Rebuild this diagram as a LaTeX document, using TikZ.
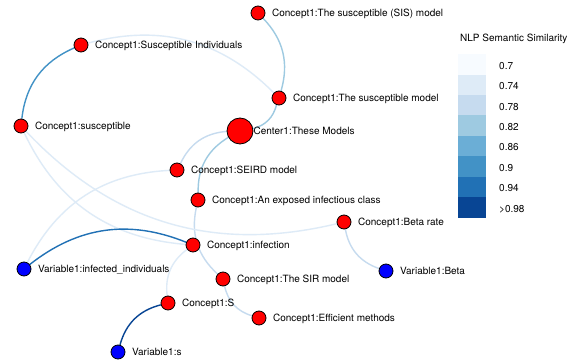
\documentclass[tikz,border=0pt]{standalone}
\usepackage{fontspec}
\setmainfont{TeX Gyre Heros}
\usetikzlibrary{backgrounds}
\definecolor{cA}{HTML}{F7FBFF}
\definecolor{cB}{HTML}{DEEBF7}
\definecolor{cC}{HTML}{C6DBEF}
\definecolor{cD}{HTML}{9ECAE1}
\definecolor{cE}{HTML}{6BAED6}
\definecolor{cF}{HTML}{4292C6}
\definecolor{cG}{HTML}{2171B5}
\definecolor{cH}{HTML}{084594}
\definecolor{nodered}{HTML}{FF0000}
\definecolor{nodeblue}{HTML}{0000FF}
\begin{document}
\begin{tikzpicture}[x=1pt,y=1pt,
  vnode/.style={circle,draw=black,line width=0.8pt,inner sep=0pt,minimum size=14pt},
  conceptnode/.style={vnode,fill=nodered},
  varnode/.style={vnode,fill=nodeblue},
  hubnode/.style={conceptnode,minimum size=26pt},
  lbl/.style={inner sep=0pt,anchor=base west,font=\fontsize{10}{12}\selectfont},
  edgeline/.style={line width=1.4pt},
  legbox/.style={inner sep=0pt,minimum width=28pt,minimum height=20.6pt,anchor=north west},
]
\useasboundingbox (0,0) rectangle (571,362);

% nodes
\node[conceptnode] (sis) at (258,349) {};
\node[conceptnode] (sind) at (81,317) {};
\node[conceptnode] (susc) at (21,236) {};
\node[conceptnode] (smodel) at (279,264) {};
\node[hubnode] (center) at (240,231) {};
\node[conceptnode] (seird) at (177,192) {};
\node[conceptnode] (exposed) at (198,162) {};
\node[conceptnode] (betarate) at (344,140) {};
\node[conceptnode] (infection) at (193,117) {};
\node[varnode] (infind) at (24,93) {};
\node[varnode] (betavar) at (386,91) {};
\node[conceptnode] (sir) at (223,83) {};
\node[conceptnode] (S) at (168,59) {};
\node[conceptnode] (efficient) at (259,44) {};
\node[varnode] (vars) at (118,10) {};

% labels
\node[lbl] (lsis) at ([xshift=6.5pt,yshift=-3.6pt]sis.east) {Concept1:The susceptible (SIS) model};
\node[lbl] (lsind) at ([xshift=6.5pt,yshift=-3.6pt]sind.east) {Concept1:Susceptible Individuals};
\node[lbl] (lsusc) at ([xshift=6.5pt,yshift=-3.6pt]susc.east) {Concept1:susceptible};
\node[lbl] (lsmodel) at ([xshift=6.5pt,yshift=-3.6pt]smodel.east) {Concept1:The susceptible model};
\node[lbl] (lcenter) at ([xshift=0pt,yshift=-3.6pt]center.east) {Center1:These Models};
\node[lbl] (lseird) at ([xshift=6.5pt,yshift=-3.6pt]seird.east) {Concept1:SEIRD model};
\node[lbl] (lexposed) at ([xshift=6.5pt,yshift=-3.6pt]exposed.east) {Concept1:An exposed infectious class};
\node[lbl] (lbetarate) at ([xshift=6.5pt,yshift=-3.6pt]betarate.east) {Concept1:Beta rate};
\node[lbl] (linfection) at ([xshift=6.5pt,yshift=-3.6pt]infection.east) {Concept1:infection};
\node[lbl] (linfind) at ([xshift=6.5pt,yshift=-3.6pt]infind.east) {Variable1:infected\_individuals};
\node[lbl] (lbetavar) at ([xshift=6.5pt,yshift=-3.6pt]betavar.east) {Variable1:Beta};
\node[lbl] (lsir) at ([xshift=6.5pt,yshift=-3.6pt]sir.east) {Concept1:The SIR model};
\node[lbl] (lS) at ([xshift=6.5pt,yshift=-3.6pt]S.east) {Concept1:S};
\node[lbl] (lefficient) at ([xshift=6.5pt,yshift=-3.6pt]efficient.east) {Concept1:Efficient methods};
\node[lbl] (lvars) at ([xshift=6.5pt,yshift=-3.6pt]vars.east) {Variable1:s};

% edges
\begin{scope}[on background layer]
\fill[white] (0,0) rectangle (571,362);
\draw[edgeline,cF] (susc) to[bend left=30] (sind);
\draw[edgeline,cB] (sind) to[bend left=30] (smodel);
\draw[edgeline,cD] (sis) to[bend left=30] (smodel);
\draw[edgeline,cD] (smodel) to[bend left=30] (center);
\draw[edgeline,cC] (center) to[bend right=30] (seird);
\draw[edgeline,cD] (center) to[bend right=30] (exposed);
\draw[edgeline,cC] (exposed) to[bend right=30] (sir);
\draw[edgeline,cC] (sir) to[bend right=30] (efficient);
\draw[edgeline,cB] (susc) to[bend right=30] (infection);
\draw[edgeline,cB] (susc) to[bend right=30] (betarate);
\draw[edgeline,cB] (infind) to[bend left=30] (seird);
\draw[edgeline,cG] (infind) to[bend left=30] (infection);
\draw[edgeline,cB] (infection) to[bend right=30] (S);
\draw[edgeline,cH] (S) to[bend right=30] (vars);
\draw[edgeline,cC] (betarate) to[bend right=30] (betavar);
\end{scope}

% legend
\node[lbl] (legtitle) at (460,320.4) {NLP Semantic Similarity};
\foreach \c/\t [count=\i from 0] in {cA/0.7,cB/0.74,cC/0.78,cD/0.82,cE/0.86,cF/0.9,cG/0.94,cH/\textgreater0.98}{
  \node[legbox,fill=\c] (legbox\i) at (458,{308-20.4*\i}) {};
  \node[lbl] (leglabel\i) at (499,{308-20.4*\i-10.2-1.5-3.6}) {\t};
}
\end{tikzpicture}
\end{document}
